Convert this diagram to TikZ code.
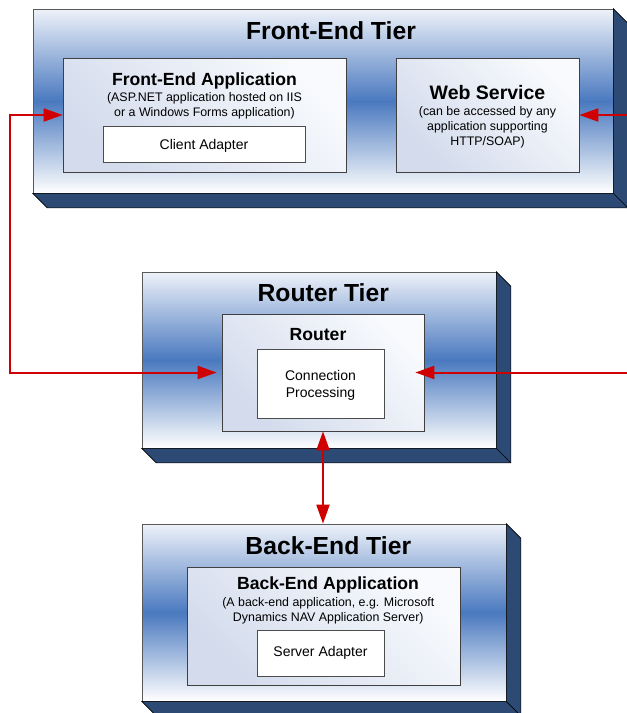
\documentclass[tikz,border=0pt]{standalone}
\usepackage{fontspec}
\setmainfont{Liberation Sans}
\usetikzlibrary{arrows.meta,calc}
\definecolor{tierblue}{HTML}{4A79BF}
\definecolor{tiertop}{HTML}{EEF2F9}
\definecolor{extrcol}{HTML}{2C4A74}
\definecolor{boxdark}{HTML}{D3DBEC}
\definecolor{boxlight}{HTML}{F8FAFD}
\definecolor{arrred}{HTML}{D00000}
\newcommand\tierdepth[1]{%
  \filldraw[extr] (#1.south west) -- (#1.south east) -- (#1.north east) -- ++(14.5,14.5)
    -- ($(#1.south east)+(14.5,14.5)$) -- ($(#1.south west)+(14.5,14.5)$) -- cycle;
  \draw[extr] (#1.south east) -- ++(14.5,14.5);
}
\tikzset{
  redtip/.tip={Triangle[length=19pt,width=13pt]},
  tierface/.style={rectangle, draw=black!65, line width=0.7pt, top color=tiertop, bottom color=white, middle color=tierblue, inner sep=0pt},
  compbox/.style={rectangle, draw=black!75, line width=0.7pt, top color=boxlight, bottom color=boxdark, shading angle=-45, inner sep=0pt},
  whitebox/.style={rectangle, draw=black!70, line width=0.7pt, fill=white, inner sep=0pt},
  extr/.style={fill=extrcol, draw=black, line width=0.7pt, line join=miter},
  tiertitle/.style={anchor=base, inner sep=0pt, font=\fontsize{24.7}{29}\selectfont\bfseries},
  comptitle/.style={anchor=base, inner sep=0pt, font=\fontsize{17.6}{21}\selectfont\bfseries},
  subtxt/.style={anchor=base, inner sep=0pt, align=center, font=\fontsize{12.4}{15}\selectfont},
  boxtxt/.style={anchor=base, inner sep=0pt, align=center, font=\fontsize{14}{17}\selectfont},
  link/.style={draw=arrred, line width=2pt}
}
\begin{document}
\begin{tikzpicture}[x=1pt,y=-1pt]
\useasboundingbox (0,0) rectangle (627,713);
\clip (0,0) rectangle (627,713);
% Front-End tier
\node[tierface, minimum width=580pt, minimum height=184pt] (feface) at (323,101) {};
\tierdepth{feface}
\node[compbox, minimum width=283pt, minimum height=114pt] (feapp) at (204.5,115) {};
\node[whitebox, minimum width=202pt, minimum height=36pt] (client) at (204,144) {};
\node[compbox, minimum width=183pt, minimum height=114pt] (websvc) at (487.5,115) {};
\node[tiertitle] (fetitle) at (331,39) {Front-End Tier};
\node[comptitle] (feapptitle) at (204.5,85) {Front-End Application};
\node[subtxt] (feappsub) at (204.5,116.5) {(ASP.NET application hosted on IIS\\or a Windows Forms application)};
\node[boxtxt] (clienttxt) at (204,149) {Client Adapter};
\node[anchor=base, inner sep=0pt, font=\fontsize{19.5}{23}\selectfont\bfseries] (wstitle) at (487.5,99.5) {Web Service};
\node[subtxt] (wssub) at (487.5,145.7) {(can be accessed by any\\application supporting\\HTTP/SOAP)};
% Router tier
\node[tierface, minimum width=354pt, minimum height=176pt] (rtface) at (319,360) {};
\tierdepth{rtface}
\node[compbox, minimum width=202pt, minimum height=117pt] (router) at (323,372.5) {};
\node[whitebox, minimum width=127pt, minimum height=69pt] (conn) at (320.5,383.5) {};
\node[tiertitle] (rttitle) at (323.3,301.5) {Router Tier};
\node[comptitle] (routertitle) at (318,340) {Router};
\node[boxtxt] (conntxt) at (320.5,397) {Connection\\Processing};
% Back-End tier
\node[tierface, minimum width=364pt, minimum height=177pt] (beface) at (324,612.5) {};
\tierdepth{beface}
\node[compbox, minimum width=273pt, minimum height=118pt] (beapp) at (323.5,626) {};
\node[whitebox, minimum width=127pt, minimum height=46pt] (server) at (320.5,653) {};
\node[tiertitle] (betitle) at (328.3,554) {Back-End Tier};
\node[comptitle] (beapptitle) at (328,589.3) {Back-End Application};
\node[subtxt] (beappsub) at (328.3,621) {(A back-end application, e.g. Microsoft\\Dynamics NAV Application Server)};
\node[boxtxt] (servertxt) at (320.5,656.5) {Server Adapter};
% connectors
\coordinate (lc) at (10,372.5);
\coordinate (rt) at (632,115);
\coordinate (rr) at (632,372.5);
\draw[link, redtip-redtip] (feapp.west) -| (lc) -- ([xshift=-5pt]router.west);
\draw[link, -redtip] (rt) -- (websvc.east);
\draw[link, -redtip] (rr) -- ([xshift=-9pt]router.east);
\draw[link, redtip-redtip] (router.south) -- (router.south |- beface.north);
\end{tikzpicture}
\end{document}
